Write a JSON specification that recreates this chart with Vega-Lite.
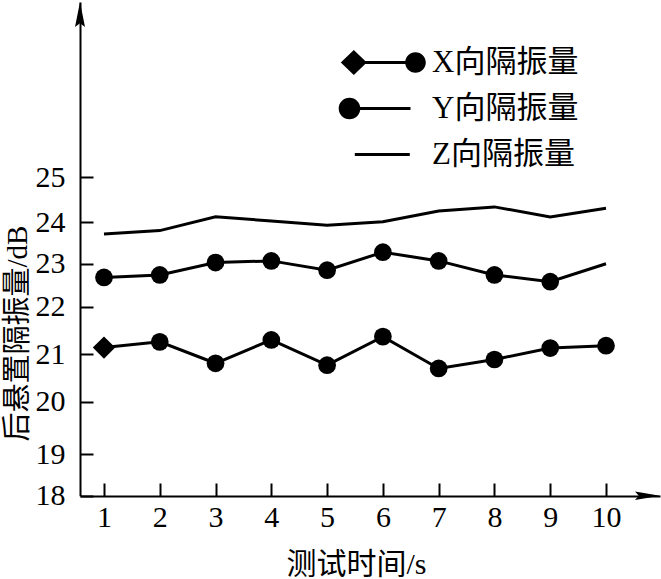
{
  "$schema": "https://vega.github.io/schema/vega-lite/v6.json",
  "width": 580,
  "height": 494,
  "autosize": {"type": "none"},
  "padding": {"left": 80, "top": 2, "right": 1, "bottom": 83},
  "background": "white",
  "config": {
    "view": {"stroke": null},
    "axis": {
      "grid": false,
      "domainColor": "black",
      "domainWidth": 2,
      "tickColor": "black",
      "tickWidth": 2,
      "tickSize": -13,
      "labelColor": "black",
      "labelFont": "Liberation Serif",
      "labelFontSize": 30,
      "titleColor": "black",
      "titleFont": "Liberation Serif, Noto Sans CJK SC",
      "titleFontSize": 30,
      "titleFontWeight": "normal"
    }
  },
  "datasets": {
    "series": [
      {"t": 1, "v": 21.14, "s": "X", "m": "diamond"},
      {"t": 2, "v": 21.26, "s": "X", "m": "circle"},
      {"t": 3, "v": 20.81, "s": "X", "m": "circle"},
      {"t": 4, "v": 21.30, "s": "X", "m": "circle"},
      {"t": 5, "v": 20.77, "s": "X", "m": "circle"},
      {"t": 6, "v": 21.37, "s": "X", "m": "circle"},
      {"t": 7, "v": 20.70, "s": "X", "m": "circle"},
      {"t": 8, "v": 20.89, "s": "X", "m": "circle"},
      {"t": 9, "v": 21.13, "s": "X", "m": "circle"},
      {"t": 10, "v": 21.18, "s": "X", "m": "circle"},
      {"t": 1, "v": 22.68, "s": "Y", "m": "circle"},
      {"t": 2, "v": 22.74, "s": "Y", "m": "circle"},
      {"t": 3, "v": 23.03, "s": "Y", "m": "circle"},
      {"t": 4, "v": 23.07, "s": "Y", "m": "circle"},
      {"t": 5, "v": 22.85, "s": "Y", "m": "circle"},
      {"t": 6, "v": 23.28, "s": "Y", "m": "circle"},
      {"t": 7, "v": 23.07, "s": "Y", "m": "circle"},
      {"t": 8, "v": 22.74, "s": "Y", "m": "circle"},
      {"t": 9, "v": 22.58, "s": "Y", "m": "circle"},
      {"t": 10, "v": 23.00, "s": "Y", "m": "none"},
      {"t": 1, "v": 23.72, "s": "Z", "m": "none"},
      {"t": 2, "v": 23.80, "s": "Z", "m": "none"},
      {"t": 3, "v": 24.12, "s": "Z", "m": "none"},
      {"t": 4, "v": 24.03, "s": "Z", "m": "none"},
      {"t": 5, "v": 23.93, "s": "Z", "m": "none"},
      {"t": 6, "v": 24.01, "s": "Z", "m": "none"},
      {"t": 7, "v": 24.25, "s": "Z", "m": "none"},
      {"t": 8, "v": 24.34, "s": "Z", "m": "none"},
      {"t": 9, "v": 24.12, "s": "Z", "m": "none"},
      {"t": 10, "v": 24.31, "s": "Z", "m": "none"}
    ],
    "legend": [
      {"name": "X向隔振量"},
      {"name": "Y向隔振量"},
      {"name": "Z向隔振量"}
    ]
  },
  "encoding": {
    "x": {
      "field": "t",
      "type": "quantitative",
      "scale": {"domain": [0.57, 10.968], "nice": false, "zero": false},
      "axis": {
        "values": [1, 2, 3, 4, 5, 6, 7, 8, 9, 10],
        "labelPadding": 19,
        "title": "测试时间/s",
        "titleX": 276,
        "titleY": 53,
        "titleBaseline": "top"
      }
    },
    "y": {
      "field": "v",
      "type": "quantitative",
      "scale": {
        "domain": [18, 19, 20, 21, 22, 23, 24, 25, 28.86],
        "range": [493.7, 452.3, 399.5, 352.3, 304.5, 261.8, 220.3, 175, 0],
        "nice": false,
        "zero": false
      },
      "axis": {
        "values": [18, 19, 20, 21, 22, 23, 24, 25],
        "labelPadding": 28,
        "title": "后悬置隔振量/dB",
        "titleFontSize": 29,
        "titleX": -48,
        "titleY": 331,
        "titleBaseline": "bottom"
      }
    }
  },
  "layer": [
    {
      "data": {"name": "series"},
      "mark": {"type": "line", "color": "black", "strokeWidth": 3},
      "encoding": {"detail": {"field": "s", "type": "nominal"}}
    },
    {
      "data": {"name": "series"},
      "transform": [{"filter": "datum.m === 'circle'"}],
      "mark": {"type": "point", "shape": "circle", "filled": true, "color": "black", "opacity": 1, "size": 314}
    },
    {
      "data": {"name": "series"},
      "transform": [{"filter": "datum.m === 'diamond'"}],
      "mark": {"type": "point", "shape": "diamond", "filled": true, "color": "black", "opacity": 1, "size": 500}
    },
    {
      "data": {"values": [{"t": 10.968, "v": 18}]},
      "mark": {"type": "point", "shape": "M0,0L-1,-0.17L-0.85,0L-1,0.17Z", "filled": true, "color": "black", "opacity": 1, "size": 2500}
    },
    {
      "data": {"values": [{"t": 0.57, "v": 28.86}]},
      "mark": {"type": "point", "shape": "M0,0L-0.2,1L0,0.85L0.2,1Z", "filled": true, "color": "black", "opacity": 1, "size": 2500}
    },
    {
      "data": {"name": "legend"},
      "mark": {"type": "point", "filled": true, "color": "black", "opacity": 0},
      "encoding": {
        "x": {"value": 300},
        "y": {"value": 60},
        "shape": {
          "field": "name",
          "type": "nominal",
          "scale": {
            "domain": ["X向隔振量", "Y向隔振量", "Z向隔振量"],
            "range": [
              "M-4.17,0L-2.87,-1.25L-1.57,0L-2.87,1.25Z M-2.87,-0.14L3.3,-0.14L3.3,0.14L-2.87,0.14Z M2.27,0A1.03,1.03,0,1,1,4.33,0A1.03,1.03,0,1,1,2.27,0Z",
              "M-4.38,0A1.08,1.08,0,1,1,-2.22,0A1.08,1.08,0,1,1,-4.38,0Z M-3.3,-0.14L2.8,-0.14L2.8,0.14L-3.3,0.14Z",
              "M-2.77,-0.15L2.73,-0.15L2.73,0.15L-2.77,0.15Z"
            ]
          },
          "legend": {
            "orient": "none",
            "legendX": 287,
            "legendY": 45,
            "title": null,
            "padding": 0,
            "symbolSize": 400,
            "symbolFillColor": "black",
            "symbolStrokeColor": "black",
            "symbolStrokeWidth": 0,
            "symbolOpacity": 1,
            "labelFont": "Liberation Serif, Noto Sans CJK SC",
            "labelFontSize": 31,
            "labelColor": "black",
            "labelOffset": 34,
            "rowPadding": 14,
            "labelLimit": 300
          }
        }
      }
    }
  ]
}
